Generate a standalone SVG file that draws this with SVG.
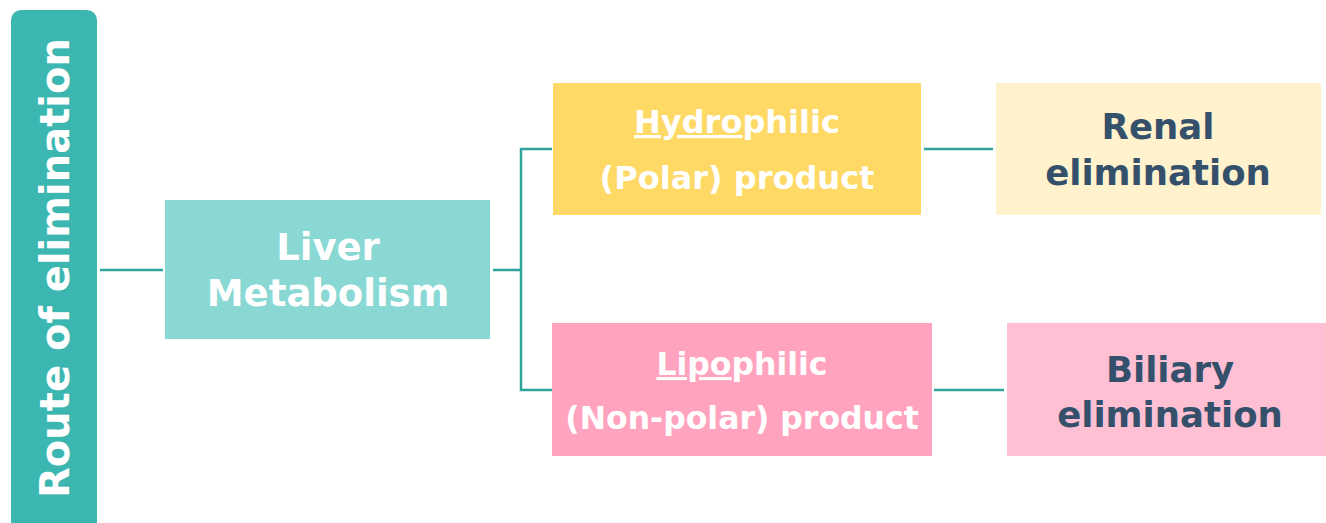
<svg xmlns="http://www.w3.org/2000/svg" width="1326" height="523" viewBox="0 0 1326 523">
<style>
text{font-family:"DejaVu Sans","Liberation Sans",sans-serif;font-weight:bold;text-anchor:middle}
.w{fill:#ffffff}
.d{fill:#35506b}
.c{stroke:#2fa39b;stroke-width:2.5;fill:none}
</style>
<rect width="1326" height="523" fill="#ffffff"/>
<g id="route">
<path d="M11,20 a10,10 0 0 1 10,-10 h66 a10,10 0 0 1 10,10 V523 H11 Z" fill="#3cb6b0"/>
<text class="w" font-size="40" transform="translate(69,268) rotate(-90)">Route of elimination</text>
</g>
<g id="connectors">
<line class="c" x1="100" y1="270" x2="163" y2="270"/>
<line class="c" x1="493" y1="270" x2="521" y2="270"/>
<polyline class="c" points="552,149 521,149 521,390 552,390"/>
<line class="c" x1="924" y1="149" x2="993" y2="149"/>
<line class="c" x1="934" y1="390" x2="1004" y2="390"/>
</g>
<g id="liver">
<rect x="165" y="200" width="325" height="139" fill="#8ad8d4"/>
<text class="w" font-size="37" x="328" y="260">Liver</text>
<text class="w" font-size="37" x="328" y="306">Metabolism</text>
</g>
<g id="hydrophilic">
<rect x="553" y="83" width="368" height="132" fill="#fed966"/>
<text class="w" font-size="32" x="737" y="133"><tspan text-decoration="underline">Hydro</tspan>philic</text>
<text class="w" font-size="32" x="737" y="189">(Polar) product</text>
</g>
<g id="renal">
<rect x="996" y="83" width="325" height="132" fill="#fff2cc"/>
<text class="d" font-size="35.5" x="1158" y="139">Renal</text>
<text class="d" font-size="35.5" x="1158" y="185">elimination</text>
</g>
<g id="lipophilic">
<rect x="552" y="323" width="380" height="133" fill="#ffa3be"/>
<text class="w" font-size="31.5" x="742" y="375"><tspan text-decoration="underline">Lipo</tspan>philic</text>
<text class="w" font-size="31.5" x="742" y="429">(Non-polar) product</text>
</g>
<g id="biliary">
<rect x="1007" y="323" width="319" height="133" fill="#ffc0d3"/>
<text class="d" font-size="35.5" x="1170" y="382">Biliary</text>
<text class="d" font-size="35.5" x="1170" y="427">elimination</text>
</g>
</svg>
